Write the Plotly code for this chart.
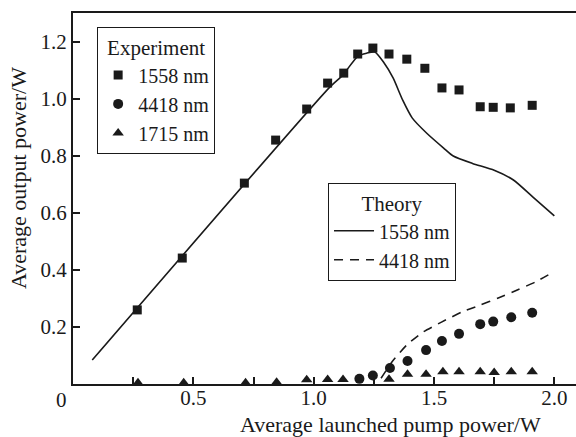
import plotly.graph_objects as go

FONT = "Liberation Serif"
INK = "#1a1a1a"

# Experiment data
exp_1558_x = [0.267, 0.454, 0.712, 0.842, 0.971, 1.058, 1.125, 1.183, 1.246, 1.313,
              1.387, 1.462, 1.533, 1.604, 1.692, 1.746, 1.817, 1.908]
exp_1558_y = [0.26, 0.442, 0.705, 0.856, 0.965, 1.056, 1.091, 1.158, 1.179, 1.158,
              1.140, 1.108, 1.039, 1.032, 0.973, 0.971, 0.969, 0.978]

exp_4418_x = [1.19, 1.246, 1.317, 1.39, 1.467, 1.533, 1.604, 1.692, 1.746, 1.821, 1.908]
exp_4418_y = [0.018, 0.03, 0.056, 0.081, 0.119, 0.151, 0.176, 0.21, 0.219, 0.234, 0.25]

exp_1715_x = [0.27, 0.46, 0.717, 0.846, 0.971, 1.058, 1.122, 1.313, 1.39, 1.467,
              1.537, 1.604, 1.692, 1.75, 1.821, 1.908]
exp_1715_y = [0.004, 0.004, 0.004, 0.006, 0.015, 0.016, 0.016, 0.017, 0.034, 0.034,
              0.043, 0.043, 0.043, 0.04, 0.043, 0.043]

# Theory curves
th_1558_x = [0.08, 1.067, 1.121, 1.183, 1.22, 1.254, 1.29, 1.33, 1.37, 1.41, 1.47,
             1.54, 1.58, 1.66, 1.75, 1.83, 1.91, 2.00]
th_1558_y = [0.084, 1.042, 1.084, 1.150, 1.161, 1.165, 1.13, 1.074, 0.996, 0.933, 0.88,
             0.828, 0.800, 0.774, 0.750, 0.716, 0.657, 0.59]

th_4418_x = [1.28, 1.325, 1.387, 1.454, 1.533, 1.617, 1.692, 1.767, 1.846, 1.921, 2.0]
th_4418_y = [0.02, 0.077, 0.137, 0.182, 0.218, 0.253, 0.277, 0.302, 0.33, 0.358, 0.395]

x_tick_vals = [0.5, 1.0, 1.5, 2.0]
x_tick_text = ["0.5", "1.0", "1.5", "2.0"]
x_minor_vals = [0.25, 0.75, 1.25, 1.75]
y_tick_vals = [0.2, 0.4, 0.6, 0.8, 1.0, 1.2]
y_tick_text = ["0.2", "0.4", "0.6", "0.8", "1.0", "1.2"]

fig = go.Figure()

fig.add_trace(go.Scatter(x=exp_1558_x, y=exp_1558_y, mode="markers", name="1558 nm",
                         marker=dict(symbol="square", size=9, color=INK), legend="legend"))
fig.add_trace(go.Scatter(x=exp_4418_x, y=exp_4418_y, mode="markers", name="4418 nm",
                         marker=dict(symbol="circle", size=10, color=INK), legend="legend"))
fig.add_trace(go.Scatter(x=exp_1715_x, y=exp_1715_y, mode="markers", name="1715 nm",
                         marker=dict(symbol="triangle-up", size=10, color=INK), legend="legend"))
fig.add_trace(go.Scatter(x=th_1558_x, y=th_1558_y, mode="lines", name="1558 nm",
                         line=dict(color=INK, width=1.6, shape="spline", smoothing=0.6),
                         legend="legend2"))
fig.add_trace(go.Scatter(x=th_4418_x, y=th_4418_y, mode="lines", name="4418 nm",
                         line=dict(color=INK, width=1.6, dash="9px,7px", shape="spline",
                                   smoothing=0.6),
                         legend="legend2"))

legend_common = dict(
    bgcolor="white", bordercolor=INK, borderwidth=1,
    font=dict(family=FONT, size=20, color=INK),
    xanchor="left", yanchor="top",
    tracegroupgap=0,
)

W, H = 576, 437
L, R, T, B = 73, 0, 13, 53
PW, PH = W - L - R, H - T - B

fig.update_layout(
    width=W, height=H,
    margin=dict(l=L, r=R, t=T, b=B),
    paper_bgcolor="white", plot_bgcolor="white",
    font=dict(family=FONT, size=21, color=INK),
    showlegend=True,
    legend=dict(x=0.048, y=0.962, itemwidth=30,
                title=dict(text="Experiment", side="top center",
                           font=dict(family=FONT, size=21, color=INK)),
                **legend_common),
    legend2=dict(x=0.507, y=0.542, itemwidth=40,
                 title=dict(text="Theory", side="top center",
                            font=dict(family=FONT, size=21, color=INK)),
                 **legend_common),
    xaxis=dict(range=[0, 2.09], showgrid=False, zeroline=False,
               showline=True, linecolor=INK, linewidth=2, mirror=True,
               ticks="inside", ticklen=7, tickwidth=1.5, tickcolor=INK,
               tickvals=x_tick_vals, ticktext=x_tick_text,
               ticklabelstandoff=-6,
               minor=dict(tickvals=x_minor_vals, ticks="inside",
                          ticklen=7, tickwidth=1.5, tickcolor=INK),
               tickfont=dict(family=FONT, size=21, color=INK)),
    yaxis=dict(range=[0, 1.302], showgrid=False, zeroline=False,
               showline=True, linecolor=INK, linewidth=2,
               ticks="inside", ticklen=7, tickwidth=1.5, tickcolor=INK,
               tickvals=y_tick_vals, ticktext=y_tick_text,
               tickfont=dict(family=FONT, size=21, color=INK)),
    annotations=[
        dict(text="0", x=0, y=0, xref="x", yref="y", xanchor="center", yanchor="top",
             xshift=-12, yshift=-2, showarrow=False,
             font=dict(family=FONT, size=21, color=INK)),
        dict(text="Average launched pump power/W",
             x=(390 - L) / PW, y=(H - B - 424) / PH, xref="paper", yref="paper",
             xanchor="center", yanchor="middle",
             showarrow=False, font=dict(family=FONT, size=22, color=INK)),
        dict(text="Average output power/W", textangle=-90,
             x=(18 - L) / PW, y=(H - B - 178) / PH, xref="paper", yref="paper",
             xanchor="center", yanchor="middle",
             showarrow=False, font=dict(family=FONT, size=22, color=INK)),
    ],
)

fig.write_html("out.html")
